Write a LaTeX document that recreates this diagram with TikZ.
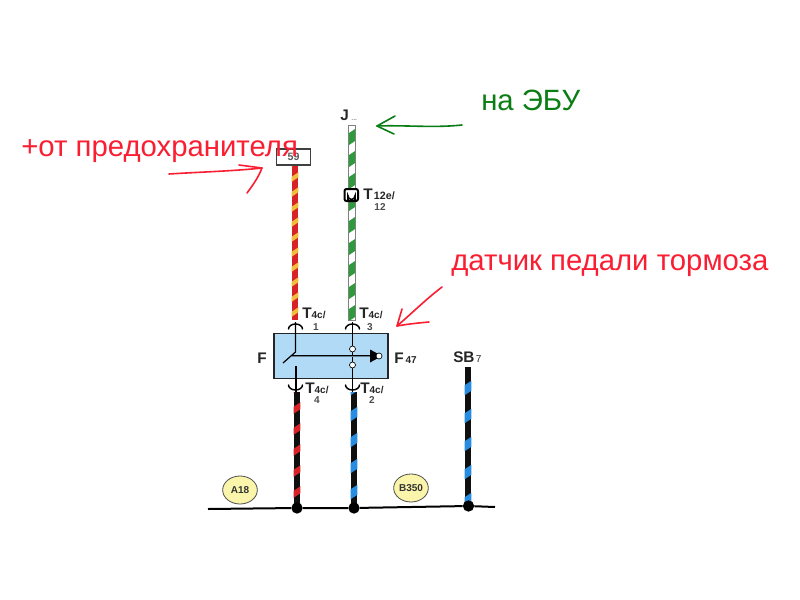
\documentclass[tikz,border=0pt]{standalone}
\usepackage{fontspec}
\setmainfont{Liberation Sans}
\usetikzlibrary{shapes.geometric,calc}
\definecolor{wred}{RGB}{215,35,40}
\definecolor{wyel}{RGB}{240,190,60}
\definecolor{wgrn}{RGB}{45,155,60}
\definecolor{wblu}{RGB}{40,140,225}
\definecolor{wblk}{RGB}{15,15,15}
\definecolor{boxblue}{RGB}{176,218,245}
\definecolor{annred}{RGB}{250,30,50}
\definecolor{anngrn}{RGB}{10,125,20}
\definecolor{ell}{RGB}{250,245,170}
\newcommand{\subf}{\fontsize{7.5}{8}\selectfont}
\tikzset{
 x=0.75pt,y=-0.75pt,
 lbl/.style={font=\bfseries\fontsize{11.5}{12}\selectfont,inner sep=0pt,text=black!85},
 sm/.style={font=\bfseries\fontsize{7.5}{8}\selectfont,inner sep=0pt,text=black!70},
 ann/.style={inner sep=0pt,anchor=base west,font=\fontsize{22}{24}\selectfont},
 hand/.style={line width=1.2pt,line cap=round,line join=round},
 cup/.style={draw=black,line width=1.1pt,line cap=round},
 gnd/.style={circle,fill=black,inner sep=0pt,minimum size=8.5pt},
 pin/.style={circle,draw=black,fill=white,line width=0.5pt,inner sep=0pt,minimum size=4.5pt},
 tag/.style={ellipse,draw=black!70,fill=ell,line width=0.6pt,inner sep=0pt,minimum width=26pt,minimum height=21pt,font=\bfseries\fontsize{7.5}{8}\selectfont,text=black!80},
}
% \wirerun{from}{to}{base}{stripe}{period}{stripe height}{phase}
\newcommand{\wirerun}[7]{%
 \draw[line width=5.2pt,#3] (#1) -- (#2);
 \begin{scope}
  \clip let \p1=(#1),\p2=(#2) in (\x1-2.6pt,\y1) rectangle (\x2+2.6pt,\y2);
  \foreach \k in {0,...,24}{
   \fill[#4] let \p1=(#1) in
     (\x1-3pt,\y1+#7*0.75pt+\k*#5*0.75pt+0.75pt*#6*0.5-2pt) -- (\x1+3pt,\y1+#7*0.75pt+\k*#5*0.75pt+0.75pt*#6*0.5+2pt)
     -- (\x1+3pt,\y1+#7*0.75pt+\k*#5*0.75pt-0.75pt*#6*0.5+2pt) -- (\x1-3pt,\y1+#7*0.75pt+\k*#5*0.75pt-0.75pt*#6*0.5-2pt) -- cycle;
  }
 \end{scope}
}
\begin{document}
\begin{tikzpicture}
\useasboundingbox (0,0) rectangle (800,600);
\fill[white] (0,0) rectangle (800,600);
% coordinates
\coordinate (r1) at (295,320); \coordinate (r0) at (295,165);
\coordinate (g1) at (352,320); \coordinate (g0) at (352,125);
\coordinate (k1) at (297,508); \coordinate (k0) at (297,392);
\coordinate (b1) at (354,508); \coordinate (b0) at (354,392);
\coordinate (s1) at (468,506); \coordinate (s0) at (468,367);
% wires
\wirerun{r1}{r0}{wred}{wyel}{15}{5}{8}
\wirerun{g1}{g0}{white}{wgrn}{22}{12}{7}
\draw[black!50,line width=0.4pt] (348.6,125) rectangle (355.4,320);
\wirerun{k1}{k0}{wblk}{wred}{21}{7}{16}
\wirerun{b1}{b0}{wblk}{wblu}{26}{10}{16}
\wirerun{s1}{s0}{wblk}{wblu}{28}{10}{6}
% ground
\node[gnd] (ga) at (297,508) {};
\node[gnd] (gb) at (354,508) {};
\node[gnd] (gc) at (468.5,506) {};
\coordinate (gl) at (208,509); \coordinate (gr) at (495,507);
\draw[line width=1.5pt,black] (gl) -- (ga) -- (gb) -- (gc) -- (gr);
% switch box
\node[draw=black!85,fill=boxblue,line width=0.8pt,minimum width=85.5pt,minimum height=34pt,inner sep=0pt] (sw) at (331,356) {};
\draw[black,line width=0.9pt] (295.5,322) -- (295.5,352) -- (283,363);
\draw[black,line width=0.9pt] (296,366) -- (296,392);
\draw[black,line width=0.9pt] (352.5,322) -- (352.5,392);
\draw[black,line width=0.7pt,double=boxblue!60!black,double distance=0.5pt] (292,356) -- (372,356);
\fill[black] (382,356) -- (370,349.5) -- (370,362.5) -- cycle;
\node[pin] (pe) at (379,356) {};
\node[pin] (p1) at (352.5,349) {};
\node[pin] (p2) at (352.5,365) {};
% cups
\foreach \x in {295.5,352.5}{\draw[cup] (\x-7,329) arc (180:360:7 and 5);}
\foreach \x in {295.5,352.5}{\draw[cup] (\x-7,385) arc (180:0:7 and 5);}
% labels
\node[lbl,anchor=base west] (t1) at (302,318) {T{\subf 4c/}};
\node[sm] (t1b) at (316,327) {1};
\node[lbl,anchor=base west] (t3) at (359,318) {T{\subf 4c/}};
\node[sm] (t3b) at (370,327) {3};
\node[lbl,anchor=base west] (t4) at (305,393) {T{\subf 4c/}};
\node[sm] (t4b) at (317,400) {4};
\node[lbl,anchor=base west] (t2) at (360,393) {T{\subf 4c/}};
\node[sm] (t2b) at (372,400) {2};
\node[lbl,anchor=base west] (f) at (257,363) {F};
\node[lbl,anchor=base west] (f47) at (394,363) {F\hspace{1.5pt}{\subf 47}};
\node[lbl,anchor=base west] (sb) at (453,362) {SB\hspace{1pt}{\subf\mdseries 7}};
\node[lbl,anchor=base west] (j) at (340,120) {J\hspace{2pt}{\fontsize{5}{6}\selectfont\mdseries ...}};
\node[lbl,anchor=base west] (t12) at (363,199) {T\hspace{1pt}{\fontsize{8}{9}\selectfont 12e/}};
\node[sm] (t12b) at (380,207) {12};
% fuse
\node[draw=black!75,fill=white,line width=0.8pt,minimum width=25pt,minimum height=12pt,inner sep=0pt,font=\fontsize{8}{8}\selectfont\bfseries,text=black!65] (fuse) at (293.5,157) {59};
% connector T12
\draw[black,line width=1.5pt,rounded corners=1.5pt,fill=white] (344.5,201) rectangle (358,189);
\draw[black,line width=1.2pt] (348,201) -- (348,196) arc (180:0:3.5) -- (355,201);
% tags
\node[tag] (a18) at (240,490) {A18};
\node[tag] (b350) at (411,488) {B350};
% annotations
\node[ann,text=annred] (plus) at (21,156) {+от предохранителя};
\node[ann,text=annred] (dat) at (451,270) {датчик педали тормоза};
\node[ann,text=anngrn] (ecu) at (481,110) {на ЭБУ};
\coordinate (a1) at (169,174); \coordinate (a2) at (262,168);
\draw[hand,annred] (a1) .. controls (200,172) and (235,171) .. (a2);
\draw[hand,annred] (239,165) -- (a2) .. controls (258,178) and (253,185) .. (247,193);
\coordinate (b1a) at (429,322); \coordinate (b2a) at (397,326);
\draw[hand,annred] (b1a) .. controls (418,323) and (408,324) .. (b2a);
\draw[hand,annred] (442,287) .. controls (425,300) and (410,315) .. (b2a) -- (402,309);
\coordinate (c1) at (462,125); \coordinate (c2) at (377,126);
\draw[hand,anngrn] (c1) .. controls (435,128) and (405,125) .. (c2);
\draw[hand,anngrn] (395,116) -- (c2) -- (394,134);
\end{tikzpicture}
\end{document}
